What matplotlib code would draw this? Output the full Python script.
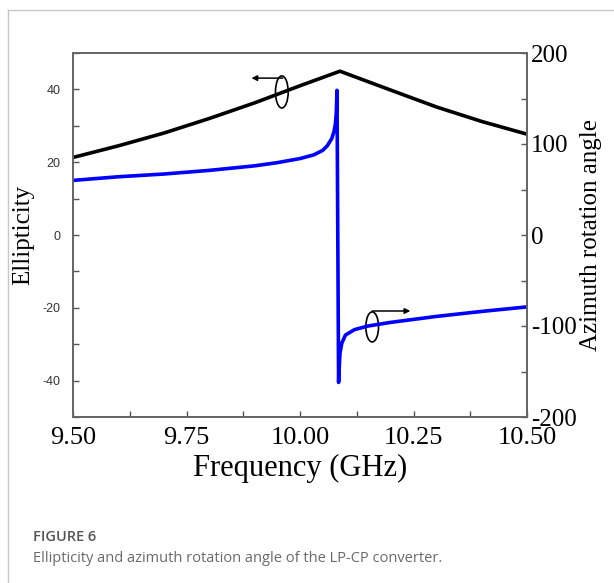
import matplotlib
matplotlib.use("Agg")
import matplotlib.pyplot as plt
from matplotlib.patches import Ellipse
from matplotlib.lines import Line2D
from matplotlib.ticker import MultipleLocator
from matplotlib.transforms import ScaledTranslation

plt.rcParams["axes.unicode_minus"] = False

# ellipticity (left axis, black)
freq_ell = [9.50, 9.60, 9.70, 9.80, 9.90, 10.00, 10.088, 10.20, 10.30, 10.40, 10.50]
ellipticity = [21.3, 24.5, 28.0, 32.0, 36.3, 41.0, 45.0, 39.8, 35.2, 31.2, 27.7]

# azimuth rotation angle (right axis, blue)
freq_az = [9.50, 9.60, 9.70, 9.80, 9.90, 9.95, 10.00, 10.03, 10.05, 10.06, 10.07,
           10.075, 10.078, 10.080, 10.0815,
           10.085, 10.0865, 10.088, 10.092, 10.10, 10.12, 10.15, 10.20, 10.30, 10.40, 10.50]
azimuth = [60, 64, 67, 71, 76, 79.5, 84, 88, 93, 98, 106,
           114, 122, 135, 159,
           -162, -145, -130, -119, -110, -104, -100, -96, -89.5, -84, -79]

x_ticks = [9.50, 9.75, 10.00, 10.25, 10.50]
x_labels = ["9.50", "9.75", "10.00", "10.25", "10.50"]

serif = "Liberation Serif"

fig = plt.figure(figsize=(6.14, 5.83), dpi=100)

# page frame lines
fig.add_artist(Line2D([7.5 / 614, 7.5 / 614], [0, 1 - 9.5 / 583], color="#c8c8c8", lw=1))
fig.add_artist(Line2D([7.5 / 614, 1], [1 - 9.5 / 583, 1 - 9.5 / 583], color="#c8c8c8", lw=1))

ax = fig.add_axes([73 / 614, 1 - 417 / 583, 454 / 614, 364 / 583])
ax2 = ax.twinx()

ax.plot(freq_ell, ellipticity, color="black", lw=2.6, solid_joinstyle="miter")
ax2.plot(freq_az, azimuth, color="#0000ff", lw=2.6)

ax.set_xlim(9.5, 10.5)
ax.set_ylim(-50, 50)
ax2.set_ylim(-200, 200)

ax.set_xticks(x_ticks)
ax.set_xticklabels(x_labels, fontfamily=serif, fontsize=19)
ax.xaxis.set_minor_locator(MultipleLocator(0.125))
ax.yaxis.set_major_locator(MultipleLocator(20))
ax.yaxis.set_minor_locator(MultipleLocator(10))
ax2.yaxis.set_major_locator(MultipleLocator(100))
ax2.yaxis.set_minor_locator(MultipleLocator(50))

for t in ax.get_yticklabels():
    t.set_fontfamily("Liberation Sans")
    t.set_fontsize(9)
    t.set_color("#333333")
shift_up = ScaledTranslation(0, 3 / 100, fig.dpi_scale_trans)
for t in ax2.get_yticklabels():
    t.set_fontfamily(serif)
    t.set_fontsize(18)
    t.set_transform(t.get_transform() + shift_up)

for a in (ax, ax2):
    a.tick_params(which="both", direction="in", length=4, width=1, color="#555555")
    for s in a.spines.values():
        s.set_color("#666666")
        s.set_linewidth(1.3)
ax.tick_params(axis="x", pad=7.5)
ax.tick_params(axis="y", pad=9)
ax2.tick_params(axis="y", pad=3)

ax.set_xlabel("Frequency (GHz)", fontfamily=serif, fontsize=22, labelpad=3)
ax.set_ylabel("Ellipticity", fontfamily=serif, fontsize=18, labelpad=6)
ax2.set_ylabel("Azimuth rotation angle", fontfamily=serif, fontsize=18, labelpad=2)

# ellipse + arrow markers
ax.add_patch(Ellipse((9.960, 39.3), 0.028, 8.8, fill=False, ec="black", lw=1.2))
ax.annotate("", xy=(9.893, 43.1), xytext=(9.962, 43.1),
            arrowprops=dict(arrowstyle="-|>", color="black", lw=1.1, mutation_scale=8,
                            shrinkA=0, shrinkB=0))
ax2.add_patch(Ellipse((10.159, -101), 0.028, 33, fill=False, ec="black", lw=1.2))
ax2.annotate("", xy=(10.243, -83.5), xytext=(10.159, -83.5),
             arrowprops=dict(arrowstyle="-|>", color="black", lw=1.1, mutation_scale=8,
                             shrinkA=0, shrinkB=0))

fig.text(33 / 614, 1 - 537 / 583, "FIGURE 6", fontfamily="Open Sans", fontsize=10.5,
         color="#555555", va="center", fontweight="semibold")
fig.text(33 / 614, 1 - 558 / 583, "Ellipticity and azimuth rotation angle of the LP-CP converter.",
         fontfamily="Open Sans", fontsize=10.5, color="#6a6a6a", va="center")

fig.savefig("out.png", dpi=100)
